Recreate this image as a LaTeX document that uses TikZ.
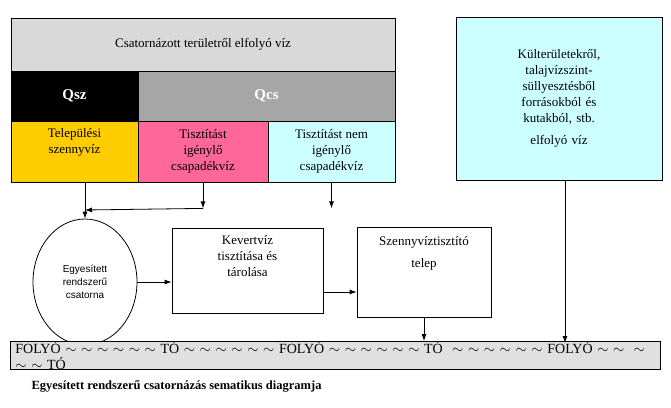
\documentclass[tikz,border=0pt]{standalone}
\usepackage{fontspec}
\setmainfont{Liberation Serif}
\newfontfamily\arialf{Liberation Sans}
\usetikzlibrary{arrows.meta,shapes.geometric}
\definecolor{gold}{HTML}{FFCC00}
\definecolor{rose}{HTML}{FF6699}
\definecolor{pale}{HTML}{CCFFFF}
\begin{document}
\begin{tikzpicture}[x=1pt,y=-1pt,font=\fontsize{13}{16}\selectfont,
  cell/.style={draw,line width=0.8pt,align=center,inner sep=0pt},
  arr/.style={-{Latex[length=7pt,width=5pt]},line width=0.8pt}]
\useasboundingbox (0,0) rectangle (671,407);
\node[cell,fill=black!15,minimum width=384,minimum height=53] (top) at (203,44.5) {Csatornázott területről elfolyó víz};
\node[cell,fill=black,text=white,minimum width=127,minimum height=50,font=\fontsize{15}{18}\selectfont\bfseries] (qsz) at (74.5,96) {Qsz};
\node[cell,fill=black!35,text=white,minimum width=257,minimum height=50,font=\fontsize{15}{18}\selectfont\bfseries] (qcs) at (266.5,96) {Qcs};
\node[cell,fill=gold,minimum width=127,minimum height=61] (tel) at (74.5,151.5) {Települési\\szennyvíz\\[6pt]};
\node[cell,fill=rose,minimum width=130,minimum height=61] (tig) at (203,151.5) {Tisztítást\\igénylő\\csapadékvíz};
\node[cell,fill=pale,minimum width=127,minimum height=61] (tnem) at (331.5,151.5) {Tisztítást nem\\igénylő\\csapadékvíz};
\node[cell,fill=pale,minimum width=206,minimum height=163,text width=150] (kul) at (559,98.5) {Külterületekről,\\talajvízszint-\\süllyesztésből\\forrásokból és\\kutakból, stb.\\[6pt]elfolyó víz\\[30pt]};
\node[draw,line width=0.8pt,ellipse,minimum width=104,minimum height=126,inner sep=0pt,align=center,font=\arialf\fontsize{10}{13}\selectfont] (ell) at (85,282) {Egyesített\\rendszerű\\csatorna};
\node[cell,minimum width=151,minimum height=85] (kev) at (247.5,270.5) {Kevertvíz\\tisztítása és\\tárolása\\[14pt]};
\node[cell,minimum width=134,minimum height=90] (szt) at (424,272) {Szennyvíztisztító\\[6pt]telep\\[24pt]};
\node[cell,fill=black!12,minimum width=650,minimum height=25,anchor=west,text width=640,align=left,font=\fontsize{14}{16}\selectfont] (bar) at (10,355.5) {FOLYÓ $\sim$ $\sim$ $\sim$ $\sim$ $\sim$ $\sim$ TÓ $\sim$ $\sim$ $\sim$ $\sim$ $\sim$ $\sim$ FOLYÓ $\sim$ $\sim$ $\sim$ $\sim$ $\sim$ $\sim$ TÓ \ $\sim$ $\sim$ $\sim$ $\sim$ $\sim$ $\sim$ FOLYÓ $\sim$ $\sim$ \ $\sim$ $\sim$ $\sim$ TÓ};
\node[anchor=west,font=\fontsize{12.5}{14}\selectfont\bfseries] (cap) at (28,386) {Egyesített rendszerű csatornázás sematikus diagramja};
\coordinate (j) at (85,210);
\draw[arr] (tel.south -| j) -- (ell.north);
\draw[arr] (tig.south) -- ++(0,26) coordinate (t2);
\draw[arr] (t2) -- (j);
\draw[arr] (tnem.south) -- ++(0,26);
\draw[arr] (ell.east) -- (ell.east -| kev.west);
\draw[arr] (kev.east |- 0,292) -- (szt.west |- 0,292);
\draw[arr] (szt.south) -- (szt.south |- bar.north);
\draw[arr] (kul.south -| 565,0) -- (565,343);
\end{tikzpicture}
\end{document}
